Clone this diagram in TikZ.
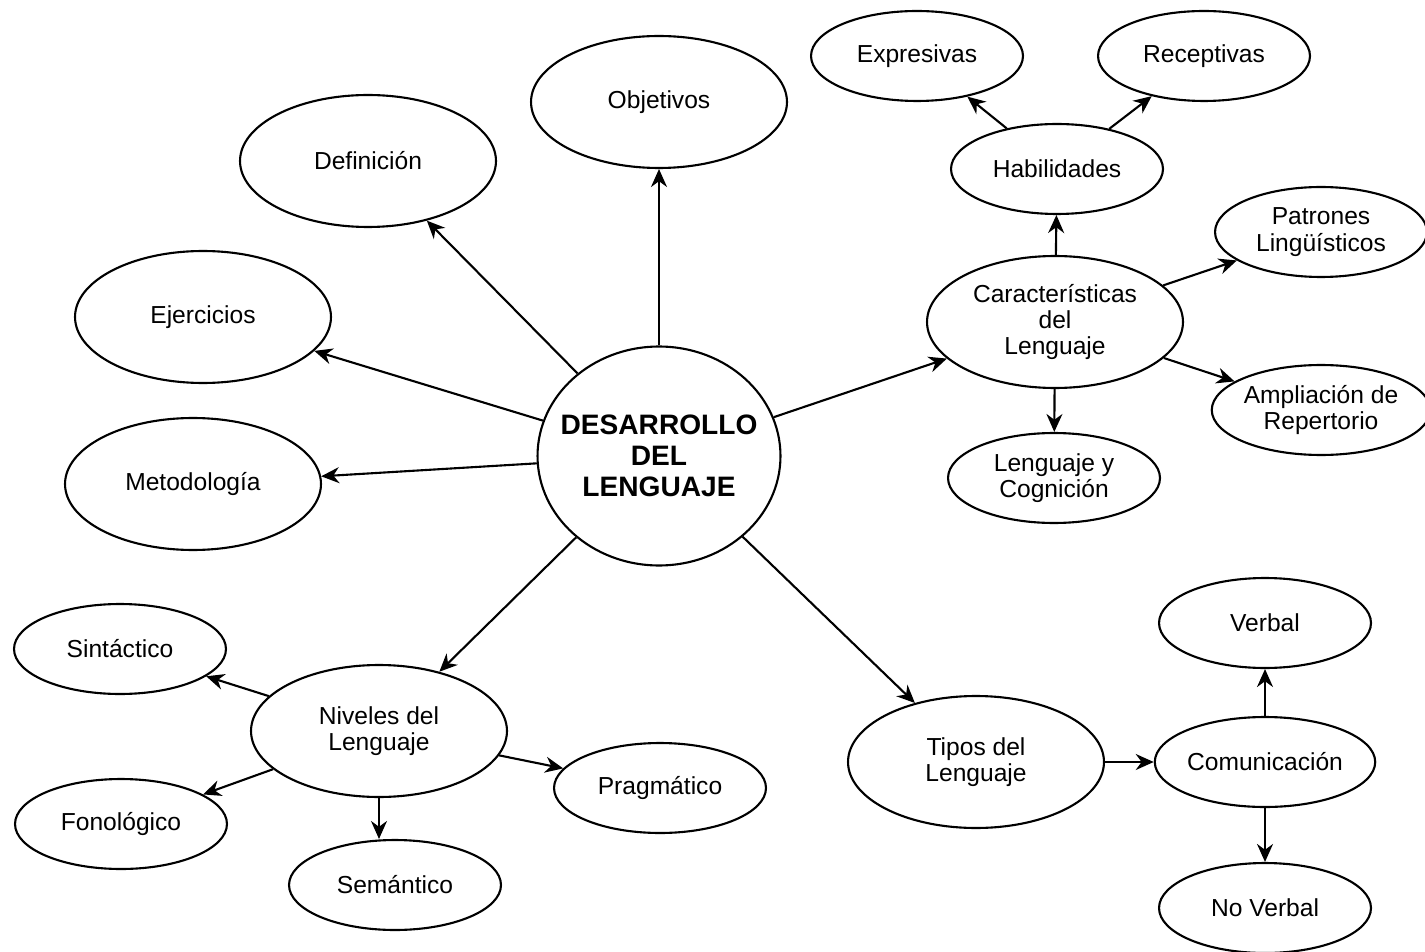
\documentclass[tikz,border=0pt]{standalone}
\usepackage{fontspec}
\setmainfont{Liberation Sans}
\usetikzlibrary{shapes.geometric,arrows.meta}

\begin{document}
\begin{tikzpicture}[
    x=0.02cm, y=-0.02cm,
    big/.style={draw, ellipse, line width=1.2pt, minimum width=5.12cm, minimum height=2.64cm,
        inner sep=0pt, align=center, font=\fontsize{14}{15}\selectfont},
    small/.style={big, minimum width=4.24cm, minimum height=1.8cm},
    arrow/.style={-{Stealth[length=3.6mm,width=3.2mm]}, line width=1.2pt}
]
\useasboundingbox (0,0) rectangle (1425,952);

\node[big, inner xsep=-0.3cm, minimum width=4.86cm, minimum height=4.38cm,
    font=\fontsize{16}{17.6}\selectfont\bfseries]
    (des) at (659,456) {DESARROLLO\\DEL\\LENGUAJE};

% left side
\node[big] (obj) at (659,102) {Objetivos};
\node[big] (def) at (368,161) {Definición};
\node[big] (eje) at (203,317) {Ejercicios};
\node[big] (met) at (193,484) {Metodología};

% right side
\node[big] (car) at (1055,322) {Características\\del\\Lenguaje};
\node[small] (hab) at (1057,169) {Habilidades};
\node[small] (exp) at (917,56) {Expresivas};
\node[small] (rec) at (1204,56) {Receptivas};
\node[small] (pat) at (1321,232) {Patrones\\Lingüísticos};
\node[small] (amp) at (1321,410) {Ampliación de\\Repertorio};
\node[small] (cog) at (1054,478) {Lenguaje y\\Cognición};

% bottom
\node[big] (niv) at (379,731) {Niveles del\\Lenguaje};
\node[small] (sin) at (120,649) {Sintáctico};
\node[small] (fon) at (121,824) {Fonológico};
\node[small] (sem) at (395,885) {Semántico};
\node[small] (pra) at (660,788) {Pragmático};

\node[big] (tip) at (976,762) {Tipos del\\Lenguaje};
\node[small] (com) at (1265,762) {Comunicación};
\node[small] (ver) at (1265,623) {Verbal};
\node[small] (nov) at (1265,908) {No Verbal};

% arrows from the centre
\draw[arrow] (des) -- (obj);
\draw[arrow] (des) -- (def);
\draw[arrow] (des) -- (eje);
\draw[arrow] (des) -- (met);
\draw[arrow] (des) -- (car);
\draw[arrow] (des) -- (niv);
\draw[arrow] (des) -- (tip);

\draw[arrow] (car) -- (hab);
\draw[arrow] (hab) -- (exp);
\draw[arrow] (hab) -- (rec);
\draw[arrow] (car) -- (pat);
\draw[arrow] (car) -- (amp);
\draw[arrow] (car) -- (cog);

\draw[arrow] (niv) -- (sin);
\draw[arrow] (niv) -- (fon);
\draw[arrow] (niv.south) -- (niv.south |- sem.north);
\draw[arrow] (niv) -- (pra);

\draw[arrow] (tip) -- (com);
\draw[arrow] (com) -- (ver);
\draw[arrow] (com) -- (nov);

\end{tikzpicture}
\end{document}
